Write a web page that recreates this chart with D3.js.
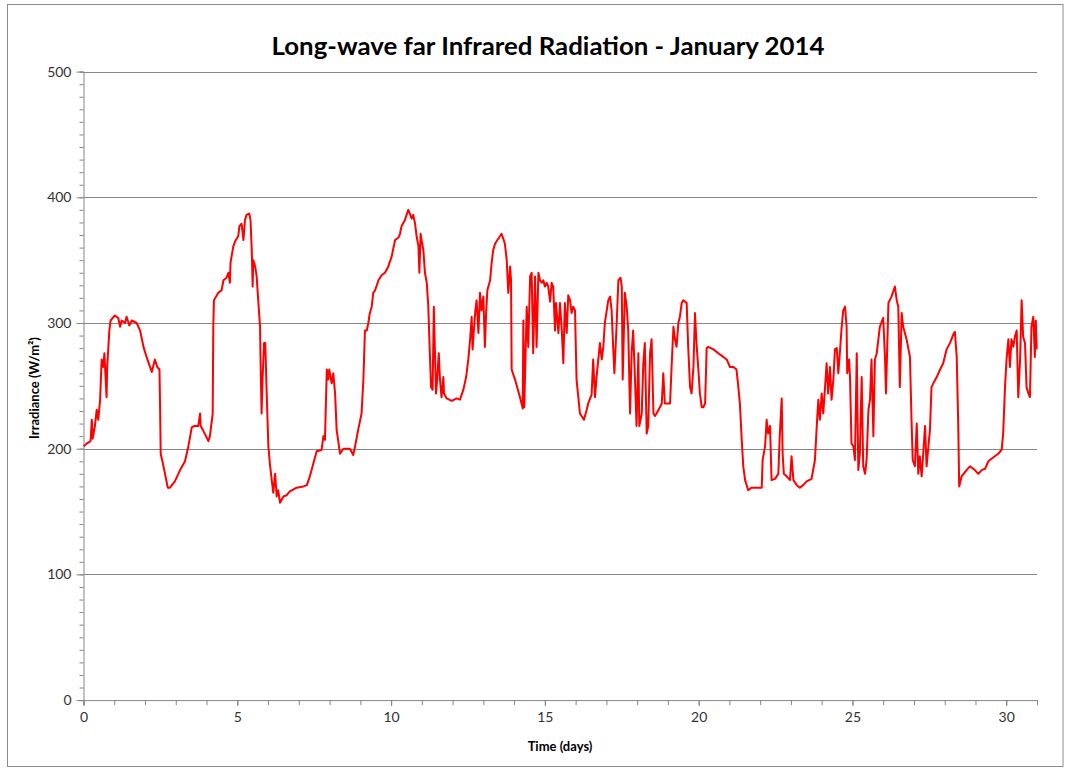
<!DOCTYPE html>
<html>
<head>
<meta charset="utf-8">
<script src="https://cdn.jsdelivr.net/npm/d3@7"></script>
<style>
  html, body { margin: 0; padding: 0; background: #fff; }
  svg { display: block; }
</style>
</head>
<body>
<svg id="chart" width="1065" height="771"></svg>
<script>
// ---- Data ----
const title = "Long-wave far Infrared Radiation - January 2014";
const xTitle = "Time (days)";
const yTitle = "Irradiance (W/m²)";
const xTickLabels = [0, 5, 10, 15, 20, 25, 30];
const yTickLabels = [0, 100, 200, 300, 400, 500];

const days = [
  0.00,0.10,0.23,0.27,0.30,0.37,0.43,0.48,0.54,0.59,0.64,0.68,0.72,0.75,0.77,0.84,0.88,1.02,1.13,1.19,
  1.24,1.35,1.40,1.49,1.57,1.73,1.84,1.95,2.05,2.22,2.32,2.40,2.47,2.49,2.51,2.60,2.74,2.81,2.97,3.14,
  3.30,3.41,3.52,3.59,3.73,3.79,3.81,3.90,4.06,4.11,4.20,4.22,4.24,4.38,4.49,4.55,4.65,4.71,4.76,4.78,
  4.87,4.93,5.03,5.07,5.14,5.20,5.25,5.30,5.39,5.43,5.47,5.50,5.52,5.58,5.63,5.68,5.74,5.76,5.79,5.82,
  5.87,5.91,5.95,6.01,6.06,6.12,6.17,6.23,6.28,6.33,6.39,6.50,6.60,6.71,6.93,7.15,7.26,7.36,7.47,7.58,
  7.74,7.80,7.85,7.91,7.96,7.99,8.07,8.12,8.18,8.23,8.34,8.45,8.66,8.77,8.83,8.93,9.04,9.10,9.15,9.21,
  9.26,9.31,9.37,9.42,9.48,9.59,9.69,9.80,9.91,10.02,10.13,10.24,
  10.29,10.34,10.45,10.56,10.61,10.67,10.72,10.78,10.83,10.89,10.92,10.96,10.99,11.05,11.10,11.16,11.21,11.26,11.30,11.35,
  11.39,11.43,11.46,11.50,11.55,11.59,11.64,11.70,11.72,11.81,11.97,12.13,12.24,12.35,12.44,12.51,12.57,12.62,12.65,12.70,
  12.74,12.78,12.84,12.89,12.94,13.00,13.05,13.09,13.13,13.22,13.27,13.32,13.38,13.43,13.54,13.59,13.65,13.70,13.76,13.81,
  13.87,13.90,13.92,14.03,14.19,14.28,14.30,14.33,14.41,14.46,14.52,14.57,14.62,14.68,14.73,14.79,14.84,14.90,14.95,15.00,
  15.06,15.11,15.17,15.22,15.27,15.33,15.36,15.44,15.49,15.55,15.60,15.65,15.71,15.76,15.82,15.87,15.92,15.98,16.03,16.14,
  16.27,16.36,16.41,16.52,16.57,16.63,16.68,16.79,16.85,16.90,16.95,17.06,17.12,17.17,17.22,17.26,17.33,17.39,17.46,17.50,
  17.53,17.60,17.66,17.71,17.77,17.82,17.87,17.93,17.98,18.04,18.07,18.15,18.20,18.25,18.31,18.36,18.42,18.47,18.53,18.58,
  18.63,18.74,18.80,18.85,18.90,19.07,19.12,19.18,19.23,19.28,19.34,19.39,19.45,19.50,19.61,19.66,19.72,19.77,19.83,19.88,
  19.93,19.99,20.04,20.10,
  20.15,20.21,20.26,20.31,20.48,20.69,20.91,21.02,21.13,21.23,21.29,21.34,21.40,21.45,21.51,21.61,21.72,21.88,22.05,22.08,
  22.16,22.21,22.26,22.32,22.37,22.48,22.59,22.64,22.70,22.73,22.77,22.86,22.97,23.02,23.08,23.19,23.29,23.40,23.51,23.67,
  23.78,23.84,23.89,23.94,24.00,24.05,24.11,24.16,24.21,24.27,24.32,24.38,24.43,24.49,24.54,24.59,24.65,24.70,24.76,24.81,
  24.83,24.89,24.92,24.97,25.03,25.08,25.14,25.19,25.24,25.30,25.35,25.41,25.46,25.52,25.57,25.62,25.68,25.73,25.79,25.89,
  26.00,26.06,26.09,26.17,26.27,26.38,26.44,26.49,26.54,26.60,26.65,26.76,26.87,26.92,26.96,27.03,27.09,27.14,27.19,27.25,
  27.30,27.36,27.41,27.47,27.52,27.57,27.63,27.74,27.85,27.95,28.06,28.17,28.28,28.33,28.39,28.44,28.47,28.55,28.71,28.82,
  28.98,29.09,29.20,29.31,29.42,29.52,29.63,29.74,29.85,29.90,29.96,30.01,30.07,30.12,30.17,30.23,30.28,30.34,30.39,30.45,
  30.50,30.55,30.61,30.66,30.72,30.77,30.82,30.88,30.93,30.96,30.99
];

const irradiance = [
  202,204,206,223,208,218,231,223,239,271,265,276,255,241,265,294,302,306,304,297,
  302,300,305,298,302,300,294,281,273,261,271,265,263,233,196,186,169,169,174,183,
  190,202,217,218,218,228,218,214,206,210,228,297,318,324,326,334,336,340,332,348,
  361,365,369,377,379,366,382,386,387,382,358,329,350,345,337,318,297,265,228,255,
  284,284,249,202,188,175,165,180,162,167,157,162,163,166,169,170,171,178,188,198,
  199,210,207,263,255,263,252,260,244,215,196,200,200,195,202,215,228,255,294,294,
  300,308,313,324,326,334,338,340,345,353,366,368,
  371,377,382,390,387,383,386,379,369,361,340,371,366,358,340,332,313,276,249,247,
  313,273,244,255,276,255,241,257,244,240,238,240,239,247,257,271,287,305,279,297,
  310,318,292,324,310,321,281,308,326,334,348,358,363,365,369,371,367,363,350,324,
  345,334,263,255,241,232,302,233,313,281,337,340,276,337,281,340,334,332,334,329,
  332,329,317,332,329,294,316,292,316,294,268,316,292,322,318,308,313,310,255,228,
  223,231,236,243,271,241,257,284,271,281,300,318,321,310,281,260,297,334,336,329,
  255,324,313,294,228,276,294,255,218,276,218,228,268,284,212,218,276,287,228,226,
  228,233,236,260,236,236,265,297,287,281,300,305,316,318,316,281,249,244,265,308,
  284,263,244,233,
  233,236,280,281,279,275,271,265,265,263,249,236,207,186,175,167,169,169,169,191,
  202,223,212,218,175,176,180,212,240,196,180,178,175,194,175,171,169,171,174,176,
  191,218,239,223,244,228,249,268,244,265,239,255,279,280,260,276,297,310,313,297,
  260,271,257,204,202,191,276,183,196,257,186,180,191,231,239,271,210,271,276,297,
  304,271,244,316,321,329,318,313,249,308,297,287,273,223,191,186,220,180,194,178,
  196,218,186,202,215,249,252,257,263,268,279,284,291,293,273,218,170,178,183,186,
  183,180,183,184,190,192,194,196,199,212,249,271,287,265,287,281,289,294,241,271,
  318,289,284,249,244,241,297,305,273,302,279
];

// ---- Drawing ----
const W = 1065, H = 771;
const plot = { left: 83.5, right: 1037, top: 71.6, bottom: 700.1 };
const svg = d3.select("#chart");
const fontFam = "Lato, 'Open Sans', 'Liberation Sans', sans-serif";
const gridColor = "#868686";

svg.append("rect").attr("x", 0).attr("y", 0).attr("width", W).attr("height", H).attr("fill", "#fff");
svg.append("rect")
  .attr("x", 7.5).attr("y", 4.5).attr("width", 1055.5).attr("height", 762)
  .attr("fill", "none").attr("stroke", "#8c8c8c").attr("stroke-width", 1);

const x = d3.scaleLinear().domain([0, 31]).range([plot.left, plot.right]);
const y = d3.scaleLinear().domain([0, 500]).range([plot.bottom, plot.top]);

// gridlines
svg.append("g").selectAll("line")
  .data(yTickLabels.filter(v => v > 0))
  .join("line")
  .attr("x1", plot.left).attr("x2", plot.right)
  .attr("y1", d => Math.round(y(d)) + 0.5).attr("y2", d => Math.round(y(d)) + 0.5)
  .attr("stroke", gridColor).attr("stroke-width", 1);

// Y axis: minor ticks
const yMinor = d3.range(0, 501, 10);
const yAxisMinor = svg.append("g")
  .attr("transform", `translate(${plot.left},0)`)
  .call(d3.axisLeft(y).tickValues(yMinor).tickSize(4).tickFormat(""));
// Y axis: major ticks with labels
const yAxisMajor = svg.append("g")
  .attr("transform", `translate(${plot.left},0)`)
  .call(d3.axisLeft(y).tickValues(yTickLabels).tickSize(7).tickPadding(5).tickFormat(d3.format("d")));

// X axis: minor ticks
const xMinor = d3.range(0, 32, 1);
const xAxisMinor = svg.append("g")
  .attr("transform", `translate(0,${plot.bottom})`)
  .call(d3.axisBottom(x).tickValues(xMinor).tickSize(5).tickFormat(""));
const xAxisMajor = svg.append("g")
  .attr("transform", `translate(0,${plot.bottom})`)
  .call(d3.axisBottom(x).tickValues(xTickLabels).tickSize(6).tickPadding(6).tickFormat(d3.format("d")));

[yAxisMinor, yAxisMajor, xAxisMinor, xAxisMajor].forEach(g => {
  g.select(".domain").attr("stroke", gridColor).attr("stroke-width", 1);
  g.selectAll(".tick line").attr("stroke", gridColor).attr("stroke-width", 1);
  g.selectAll(".tick text")
    .attr("font-family", fontFam).attr("font-size", 14).attr("fill", "#333");
});
xAxisMajor.selectAll(".domain").remove();
yAxisMajor.selectAll(".domain").remove();

// line
const pts = days.map((d, i) => [d, irradiance[i]]);
const line = d3.line().x(d => x(d[0])).y(d => y(d[1]));
svg.append("path")
  .datum(pts)
  .attr("d", line)
  .attr("fill", "none")
  .attr("stroke", "#ff0000")
  .attr("stroke-width", 2)
  .attr("stroke-linejoin", "round");

// Title
svg.append("text")
  .attr("x", 548).attr("y", 55)
  .attr("text-anchor", "middle")
  .attr("font-family", fontFam).attr("font-weight", "bold").attr("font-size", 24)
  .attr("textLength", 553).attr("lengthAdjust", "spacingAndGlyphs")
  .attr("fill", "#000")
  .text(title);

// X axis title
svg.append("text")
  .attr("x", 560).attr("y", 751)
  .attr("text-anchor", "middle")
  .attr("font-family", fontFam).attr("font-weight", "bold").attr("font-size", 13)
  .attr("fill", "#000")
  .text(xTitle);

// Y axis title
svg.append("text")
  .attr("transform", "translate(39,388) rotate(-90)")
  .attr("text-anchor", "middle")
  .attr("font-family", fontFam).attr("font-weight", "bold").attr("font-size", 13)
  .attr("fill", "#000")
  .text(yTitle);
</script>
</body>
</html>
